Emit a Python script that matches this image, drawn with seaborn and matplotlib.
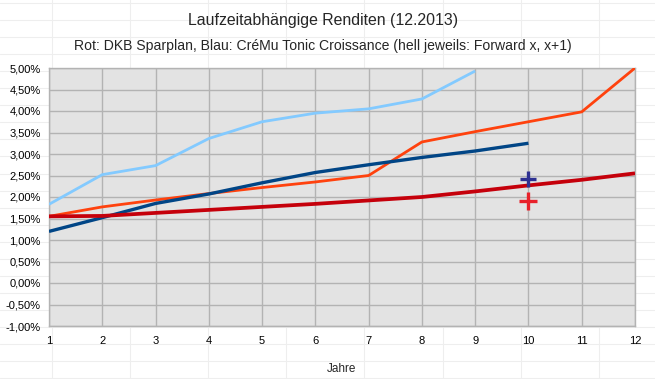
import matplotlib
matplotlib.use("Agg")
import matplotlib.pyplot as plt
from matplotlib.lines import Line2D
from matplotlib.ticker import FuncFormatter
import seaborn as sns
import pandas as pd

# ---- data ----
jahre = list(range(1, 13))
hellblau = [1.83, 2.52, 2.73, 3.36, 3.75, 3.95, 4.05, 4.28, 4.93]          # CréMu forward
dunkelblau = [1.20, 1.52, 1.85, 2.07, 2.33, 2.57, 2.75, 2.92, 3.07, 3.25]   # CréMu Tonic Croissance
orange = [1.55, 1.77, 1.93, 2.08, 2.22, 2.35, 2.50, 3.28, 3.52, 3.75, 3.98, 5.00]  # DKB forward
dunkelrot = [1.55, 1.56, 1.63, 1.70, 1.77, 1.84, 1.92, 2.00, 2.13, 2.27, 2.40, 2.55]  # DKB Sparplan
punkt_x = 10
punkt_blau = 2.43
punkt_rot = 1.90
yticks = [-1.0, -0.5, 0.0, 0.5, 1.0, 1.5, 2.0, 2.5, 3.0, 3.5, 4.0, 4.5, 5.0]

series = {
    "hellblau": hellblau,
    "orange": orange,
    "dunkelblau": dunkelblau,
    "dunkelrot": dunkelrot,
}
rows = []
for name, vals in series.items():
    for x, v in zip(jahre, vals):
        rows.append({"Jahr": x, "Rendite": v, "Serie": name})
df = pd.DataFrame(rows)

colors = {"hellblau": "#83caff", "orange": "#ff420e",
          "dunkelblau": "#004586", "dunkelrot": "#c5000b"}
widths = {"hellblau": 2.0, "orange": 2.0, "dunkelblau": 2.4, "dunkelrot": 2.7}

sns.set_style("white")
plt.rcParams["font.family"] = ["Liberation Sans", "DejaVu Sans"]

W, H = 655, 379
fig = plt.figure(figsize=(W / 100, H / 100), dpi=100)
fig.patch.set_facecolor("white")

# spreadsheet cell grid in the background
for xc in [52, 130, 208, 286, 364, 443, 521, 599]:
    fig.add_artist(Line2D([xc / W, xc / W], [0, 1], color="#eeeeee", lw=0.8, zorder=0))
yr = 3.0
while yr < H:
    fig.add_artist(Line2D([0, 1], [1 - yr / H, 1 - yr / H], color="#eeeeee", lw=0.8, zorder=0))
    yr += 17.05

ax = fig.add_axes([49 / W, 1 - 326 / H, (635 - 49) / W, (326 - 68) / H])
ax.set_facecolor("#e3e3e3")

for name in series:
    sub = df[df["Serie"] == name]
    sns.lineplot(data=sub, x="Jahr", y="Rendite", ax=ax, color=colors[name],
                 lw=widths[name], legend=False, zorder=3, solid_capstyle="butt")

ax.plot([punkt_x], [punkt_blau], marker="+", ms=11, mew=2.4, color="#2e3192", zorder=4, ls="none")
ax.plot([punkt_x], [punkt_rot], marker="+", ms=13, mew=2.4, color="#e8202a", zorder=4, ls="none")

ax.set_xlim(1, 12)
ax.set_ylim(-1.0, 5.0)
ax.set_xticks(jahre)
ax.set_yticks(yticks)
ax.yaxis.set_major_formatter(FuncFormatter(lambda v, p: f"{v:.2f}%".replace(".", ",")))
ax.grid(True, color="#b3b3b3", lw=1.0)
ax.set_axisbelow(True)
for s in ax.spines.values():
    s.set_color("#b3b3b3")
    s.set_linewidth(1.0)
ax.tick_params(axis="both", length=4, color="#b3b3b3", labelsize=8, pad=2, labelcolor="black")
ax.tick_params(axis="x", pad=3)
ax.set_xlabel("Jahre", fontsize=8.5)
ax.xaxis.set_label_coords(0.5, -0.145)
ax.set_ylabel("")

fig.text(323 / W, 1 - 20 / H, "Laufzeitabhängige Renditen (12.2013)", ha="center", va="center", fontsize=11.4)
fig.text(323 / W, 1 - 46 / H, "Rot: DKB Sparplan, Blau: CréMu Tonic Croissance (hell jeweils: Forward x, x+1)",
         ha="center", va="center", fontsize=10.1)

fig.savefig("out.png", dpi=100, facecolor="white")
